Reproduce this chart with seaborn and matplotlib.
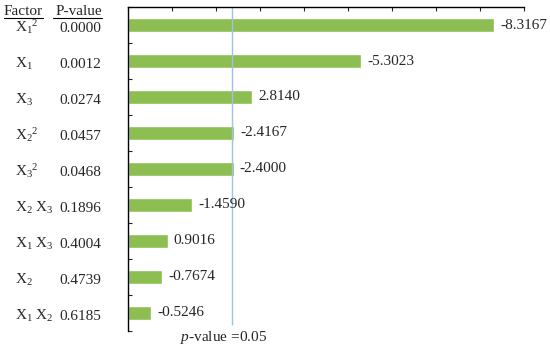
import numpy as np
import pandas as pd
import matplotlib
matplotlib.use("Agg")
import matplotlib.pyplot as plt
import seaborn as sns
from matplotlib.lines import Line2D

# datos del grafico de Pareto
factores = [r"X$_1$$^2$", r"X$_1$", r"X$_3$", r"X$_2$$^2$", r"X$_3$$^2$",
            r"X$_2$ X$_3$", r"X$_1$ X$_3$", r"X$_2$", r"X$_1$ X$_2$"]
p_valores = ["0.0000", "0.0012", "0.0274", "0.0457", "0.0468",
             "0.1896", "0.4004", "0.4739", "0.6185"]
efectos = [-8.3167, -5.3023, 2.8140, -2.4167, -2.4000,
           -1.4590, 0.9016, -0.7674, -0.5246]
t_critico = 2.365  # p-value = 0.05

datos = pd.DataFrame({"factor": factores, "efecto": efectos,
                      "abs_efecto": np.abs(efectos)})

sns.set_style("white")
plt.rcParams["font.family"] = ["Liberation Serif", "DejaVu Serif"]
plt.rcParams["mathtext.fontset"] = "custom"
plt.rcParams["mathtext.rm"] = "Liberation Serif"
plt.rcParams["mathtext.it"] = "Liberation Serif:italic"
plt.rcParams["font.size"] = 11

fig = plt.figure(figsize=(5.5, 3.52), dpi=100)
ax = fig.add_axes([0.2327, 0.06, 0.72, 0.92])

sns.barplot(data=datos, x="abs_efecto", y="factor", color="#8DBE52",
            width=0.37, saturation=1, ax=ax)

ax.set_xlim(0, 9)
ax.set_ylim(8.5, -0.5)
ax.set_xlabel("")
ax.set_ylabel("")

# ejes: solo izquierda y arriba
for s in ["right", "bottom"]:
    ax.spines[s].set_visible(False)
for s in ["left", "top"]:
    ax.spines[s].set_color("black")
    ax.spines[s].set_linewidth(1.0)

ax.xaxis.set_ticks_position("top")
ax.set_xticks(np.arange(0, 10, 1))
ax.set_xticklabels([])
ax.tick_params(axis="x", direction="in", length=3, width=0.8, top=True, bottom=False)
ax.set_yticks(np.arange(-0.5, 9, 1))
ax.set_yticklabels([])
ax.tick_params(axis="y", direction="in", length=3, width=0.8, left=True)

# linea de p-value
ax.vlines(t_critico, -0.5, 8.33, color="#9DC3E6", linewidth=1.0)
ax.text(t_critico - 0.2, 8.69, r"$\it{p}$-value =0.05", ha="center",
        va="center", fontsize=11)

# etiquetas de las barras
for i, (a, e) in enumerate(zip(datos["abs_efecto"], datos["efecto"])):
    ax.text(a + 0.14, i, f"{e:.4f}", va="center", ha="left", fontsize=11)

# tabla de factores y p-valores
x_fac = (15 - 128) / 396
x_p = (101 - 128) / 396
for i, (f, p) in enumerate(zip(factores, p_valores)):
    ax.text(x_fac, i + 0.2, f, transform=ax.get_yaxis_transform(), ha="left",
            va="baseline", fontsize=11)
    ax.text(x_p, i + 0.2, p, transform=ax.get_yaxis_transform(), ha="right",
            va="baseline", fontsize=11)

ax.text(4 / 550, 1 - 15 / 352, "Factor", transform=fig.transFigure,
        ha="left", va="baseline", fontsize=11)
ax.text(102 / 550, 1 - 15 / 352, "P-value", transform=fig.transFigure,
        ha="right", va="baseline", fontsize=11)
fig.add_artist(Line2D([4 / 550, 43 / 550], [1 - 17.5 / 352] * 2,
                      transform=fig.transFigure, color="black", lw=0.8))
fig.add_artist(Line2D([53 / 550, 102 / 550], [1 - 17.5 / 352] * 2,
                      transform=fig.transFigure, color="black", lw=0.8))

fig.savefig("out.png", dpi=100)
